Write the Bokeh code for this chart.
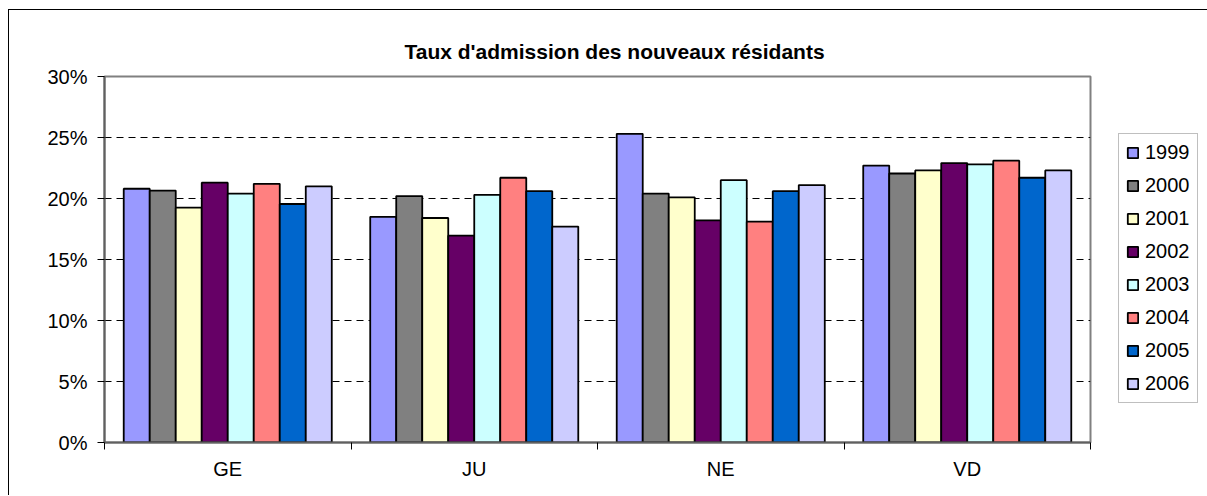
import numpy as np
from bokeh.plotting import figure
from bokeh.models import (ColumnDataSource, FixedTicker, NumeralTickFormatter,
                          Legend, LegendItem, Range1d)
from bokeh.transform import dodge
from bokeh.embed import file_html
from bokeh.resources import INLINE

cantons = ["GE", "JU", "NE", "VD"]
years = ["1999", "2000", "2001", "2002", "2003", "2004", "2005", "2006"]
y1999 = [0.208, 0.185, 0.253, 0.227]
y2000 = [0.2065, 0.202, 0.204, 0.2205]
y2001 = [0.1925, 0.184, 0.201, 0.223]
y2002 = [0.213, 0.1695, 0.182, 0.229]
y2003 = [0.204, 0.203, 0.215, 0.228]
y2004 = [0.212, 0.217, 0.181, 0.231]
y2005 = [0.1955, 0.206, 0.206, 0.217]
y2006 = [0.210, 0.177, 0.211, 0.223]
series = [y1999, y2000, y2001, y2002, y2003, y2004, y2005, y2006]
colors = ["#9999FF", "#808080", "#FFFFCC", "#660066",
          "#CCFFFF", "#FF8080", "#0066CC", "#CCCCFF"]
y_ticks = [0, 0.05, 0.10, 0.15, 0.20, 0.25, 0.30]

data = {"x": [i + 0.5 for i in range(len(cantons))]}
for yr, s in zip(years, series):
    data[yr] = s
source = ColumnDataSource(data)

p = figure(frame_width=986, frame_height=366, output_backend="svg",
           toolbar_location=None,
           x_range=Range1d(0, len(cantons)), y_range=Range1d(0, 0.30),
           min_border_left=95, min_border_top=66, min_border_bottom=53,
           min_border_right=110)
p.styles = {"margin-left": "8px", "margin-top": "9px",
            "border-left": "1px solid black", "border-top": "1px solid black"}

bw = 0.1055
items = []
for k, (yr, col) in enumerate(zip(years, colors)):
    r = p.vbar(x=dodge("x", (k - 3.5) * bw), top=yr, width=bw, source=source,
               fill_color=col, line_color="black", line_width=1.8)
    items.append(LegendItem(label=yr, renderers=[r]))

p.title.text = "Taux d'admission des nouveaux résidants"
p.title.align = "left"
p.title.text_font = "Liberation Sans"
p.title.text_font_size = "21px"
p.title.text_font_style = "bold"
p.title.text_color = "black"
p.title.offset = 300
p.title.standoff = 28

p.outline_line_color = "#808080"
p.outline_line_width = 2

p.xgrid.visible = False
p.ygrid.ticker = FixedTicker(ticks=y_ticks[1:-1])
p.ygrid.grid_line_color = "black"
p.ygrid.grid_line_dash = "7 5"
p.ygrid.grid_line_width = 1

p.yaxis.ticker = FixedTicker(ticks=y_ticks, minor_ticks=[])
p.yaxis.formatter = NumeralTickFormatter(format="0%")
p.yaxis.major_tick_out = 7
p.yaxis.major_tick_in = 0
p.yaxis.major_label_standoff = 10

p.xaxis.ticker = FixedTicker(ticks=data["x"],
                             minor_ticks=list(range(len(cantons) + 1)))
p.xaxis.major_label_overrides = {x: c for x, c in zip(data["x"], cantons)}
p.xaxis.major_tick_out = 0
p.xaxis.major_tick_in = 0
p.xaxis.minor_tick_out = 7
p.xaxis.minor_tick_in = 0
p.xaxis.major_label_standoff = 8

for ax in (p.xaxis, p.yaxis):
    ax.axis_line_color = "#606060"
    ax.axis_line_width = 2
    ax.major_tick_line_color = "black"
    ax.minor_tick_line_color = "black"
    ax.major_label_text_font = "Liberation Sans"
    ax.major_label_text_font_size = "20px"
    ax.major_label_text_color = "black"

legend = Legend(items=items, location=(28, 39))
legend.label_text_font = "Liberation Sans"
legend.label_text_font_size = "20px"
legend.label_text_color = "black"
legend.glyph_width = 13
legend.glyph_height = 13
legend.label_height = 22
legend.spacing = 10
legend.label_standoff = 6
legend.padding = 7
legend.margin = 0
legend.border_line_color = "#808080"
legend.border_line_width = 1
p.add_layout(legend, "right")

open("out.html", "w").write(file_html(p, INLINE))
